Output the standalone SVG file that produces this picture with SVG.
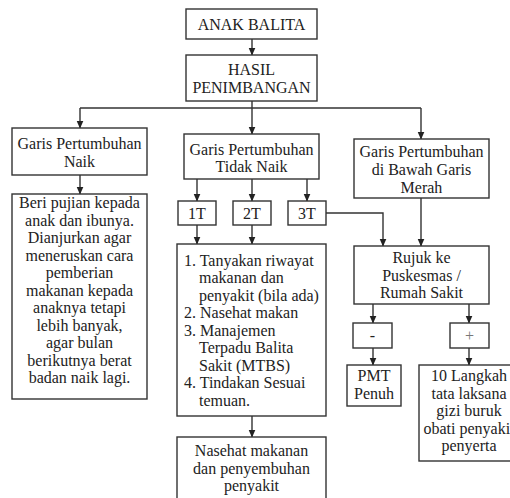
<svg xmlns="http://www.w3.org/2000/svg" width="510" height="498" viewBox="0 0 510 498">
<defs>
  <marker id="ah" markerUnits="userSpaceOnUse" markerWidth="8" markerHeight="8" viewBox="0 0 8 8" refX="7.5" refY="4" orient="auto">
    <path d="M0,0.5 L8,4 L0,7.5 z" fill="#222"/>
  </marker>
</defs>
<rect width="510" height="498" fill="#fff"/>

<g id="connectors" fill="none" stroke="#333" stroke-width="1.4">
  <line x1="252" y1="39" x2="252" y2="55" marker-end="url(#ah)"/>
  <line x1="252" y1="101" x2="252" y2="108"/>
  <line x1="80" y1="108" x2="421" y2="108"/>
  <line x1="80" y1="108" x2="80" y2="128" marker-end="url(#ah)"/>
  <line x1="252" y1="108" x2="252" y2="134" marker-end="url(#ah)"/>
  <line x1="421" y1="108" x2="421" y2="139" marker-end="url(#ah)"/>
  <line x1="80" y1="175" x2="80" y2="194" marker-end="url(#ah)"/>
  <line x1="197" y1="179" x2="197" y2="201" marker-end="url(#ah)"/>
  <line x1="252" y1="179" x2="252" y2="201" marker-end="url(#ah)"/>
  <line x1="307" y1="179" x2="307" y2="201" marker-end="url(#ah)"/>
  <line x1="197" y1="225" x2="197" y2="244" marker-end="url(#ah)"/>
  <line x1="252" y1="225" x2="252" y2="244" marker-end="url(#ah)"/>
  <path d="M326,213 H383 V246" marker-end="url(#ah)"/>
  <line x1="421" y1="198" x2="421" y2="246" marker-end="url(#ah)"/>
  <line x1="252" y1="416" x2="252" y2="437" marker-end="url(#ah)"/>
  <line x1="373" y1="304" x2="373" y2="323" marker-end="url(#ah)"/>
  <line x1="469" y1="304" x2="469" y2="323" marker-end="url(#ah)"/>
  <line x1="373" y1="348" x2="373" y2="365" marker-end="url(#ah)"/>
  <line x1="469" y1="348" x2="469" y2="365" marker-end="url(#ah)"/>
</g>

<g id="nodes" fill="#222" text-anchor="middle">
<g id="anak-balita">
  <rect x="186" y="9" width="131" height="30" fill="#fff" stroke="#333" stroke-width="1.4"/>
  <text x="251.5" y="30" font-family="Liberation Serif" font-size="16">ANAK BALITA</text>
</g>
<g id="hasil-penimbangan">
  <rect x="186" y="55" width="131" height="46" fill="#fff" stroke="#333" stroke-width="1.4"/>
  <text x="251.5" y="75" font-family="Liberation Serif" font-size="16">HASIL</text>
  <text x="251.5" y="92.5" font-family="Liberation Serif" font-size="16">PENIMBANGAN</text>
</g>
<g id="gp-naik">
  <rect x="12" y="128" width="135" height="47" fill="#fff" stroke="#333" stroke-width="1.4"/>
  <text x="79.5" y="149" font-family="Liberation Serif" font-size="16">Garis Pertumbuhan</text>
  <text x="79.5" y="166.5" font-family="Liberation Serif" font-size="16">Naik</text>
</g>
<g id="gp-tidak-naik">
  <rect x="184" y="134" width="135" height="45" fill="#fff" stroke="#333" stroke-width="1.4"/>
  <text x="251.5" y="155" font-family="Liberation Serif" font-size="16">Garis Pertumbuhan</text>
  <text x="251.5" y="172" font-family="Liberation Serif" font-size="16">Tidak Naik</text>
</g>
<g id="gp-bgm">
  <rect x="354" y="139" width="135" height="59" fill="#fff" stroke="#333" stroke-width="1.4"/>
  <text x="421.5" y="157" font-family="Liberation Serif" font-size="16">Garis Pertumbuhan</text>
  <text x="421.5" y="175" font-family="Liberation Serif" font-size="16">di Bawah Garis</text>
  <text x="421.5" y="192.5" font-family="Liberation Serif" font-size="16">Merah</text>
</g>
<g id="beri-pujian">
  <rect x="12" y="194" width="135" height="205" fill="#fff" stroke="#333" stroke-width="1.4"/>
  <text x="79.5" y="208" font-family="Liberation Serif" font-size="16">Beri pujian kepada</text>
  <text x="79.5" y="225.5" font-family="Liberation Serif" font-size="16">anak dan ibunya.</text>
  <text x="79.5" y="243" font-family="Liberation Serif" font-size="16">Dianjurkan agar</text>
  <text x="79.5" y="260.5" font-family="Liberation Serif" font-size="16">meneruskan cara</text>
  <text x="79.5" y="278" font-family="Liberation Serif" font-size="16">pemberian</text>
  <text x="79.5" y="295.5" font-family="Liberation Serif" font-size="16">makanan kepada</text>
  <text x="79.5" y="313" font-family="Liberation Serif" font-size="16">anaknya tetapi</text>
  <text x="79.5" y="330.5" font-family="Liberation Serif" font-size="16">lebih banyak,</text>
  <text x="79.5" y="348" font-family="Liberation Serif" font-size="16">agar bulan</text>
  <text x="79.5" y="365.5" font-family="Liberation Serif" font-size="16">berikutnya berat</text>
  <text x="79.5" y="383" font-family="Liberation Serif" font-size="16">badan naik lagi.</text>
</g>
<g id="t1">
  <rect x="178" y="201" width="38" height="24" fill="#fff" stroke="#333" stroke-width="1.4"/>
  <text x="197" y="219" font-family="Liberation Serif" font-size="16">1T</text>
</g>
<g id="t2">
  <rect x="233" y="201" width="38" height="24" fill="#fff" stroke="#333" stroke-width="1.4"/>
  <text x="252" y="219" font-family="Liberation Serif" font-size="16">2T</text>
</g>
<g id="t3">
  <rect x="288" y="201" width="38" height="24" fill="#fff" stroke="#333" stroke-width="1.4"/>
  <text x="307" y="219" font-family="Liberation Serif" font-size="16">3T</text>
</g>
<g id="tindakan" text-anchor="start">
  <rect x="177" y="244" width="149" height="172" fill="#fff" stroke="#333" stroke-width="1.4"/>
  <text x="184" y="265.5" font-family="Liberation Serif" font-size="16">1. Tanyakan riwayat</text>
  <text x="199" y="283" font-family="Liberation Serif" font-size="16">makanan dan</text>
  <text x="199" y="300.5" font-family="Liberation Serif" font-size="16">penyakit (bila ada)</text>
  <text x="184" y="318" font-family="Liberation Serif" font-size="16">2. Nasehat makan</text>
  <text x="184" y="335.5" font-family="Liberation Serif" font-size="16">3. Manajemen</text>
  <text x="199" y="353" font-family="Liberation Serif" font-size="16">Terpadu Balita</text>
  <text x="199" y="370.5" font-family="Liberation Serif" font-size="16">Sakit (MTBS)</text>
  <text x="184" y="388" font-family="Liberation Serif" font-size="16">4. Tindakan Sesuai</text>
  <text x="199" y="405.5" font-family="Liberation Serif" font-size="16">temuan.</text>
</g>
<g id="nasehat">
  <rect x="177" y="437" width="149" height="70" fill="#fff" stroke="#333" stroke-width="1.4"/>
  <text x="251.5" y="456" font-family="Liberation Serif" font-size="16">Nasehat makanan</text>
  <text x="251.5" y="473.5" font-family="Liberation Serif" font-size="16">dan penyembuhan</text>
  <text x="251.5" y="491" font-family="Liberation Serif" font-size="16">penyakit</text>
</g>
<g id="rujuk">
  <rect x="354" y="246" width="135" height="58" fill="#fff" stroke="#333" stroke-width="1.4"/>
  <text x="421.5" y="263" font-family="Liberation Serif" font-size="16">Rujuk ke</text>
  <text x="421.5" y="280.5" font-family="Liberation Serif" font-size="16">Puskesmas /</text>
  <text x="421.5" y="298" font-family="Liberation Serif" font-size="16">Rumah Sakit</text>
</g>
<g id="minus">
  <rect x="353" y="323" width="39" height="25" fill="#fff" stroke="#333" stroke-width="1.4"/>
  <text x="372.5" y="341" font-family="Liberation Serif" font-size="16">-</text>
</g>
<g id="plus">
  <rect x="450" y="323" width="39" height="25" fill="#fff" stroke="#333" stroke-width="1.4"/>
  <text x="469.5" y="341" font-family="Liberation Serif" font-size="16" fill="#777">+</text>
</g>
<g id="pmt-penuh">
  <rect x="347" y="365" width="54" height="41" fill="#fff" stroke="#333" stroke-width="1.4"/>
  <text x="374" y="381" font-family="Liberation Serif" font-size="16">PMT</text>
  <text x="374" y="398.5" font-family="Liberation Serif" font-size="16">Penuh</text>
</g>
<g id="langkah">
  <rect x="419" y="365" width="100" height="96" fill="#fff" stroke="#333" stroke-width="1.4"/>
  <text x="469" y="381" font-family="Liberation Serif" font-size="16">10 Langkah</text>
  <text x="469" y="398.5" font-family="Liberation Serif" font-size="16">tata laksana</text>
  <text x="469" y="416" font-family="Liberation Serif" font-size="16">gizi buruk</text>
  <text x="469" y="433.5" font-family="Liberation Serif" font-size="16">obati penyakit</text>
  <text x="469" y="451" font-family="Liberation Serif" font-size="16">penyerta</text>
</g>
</g>
</svg>
